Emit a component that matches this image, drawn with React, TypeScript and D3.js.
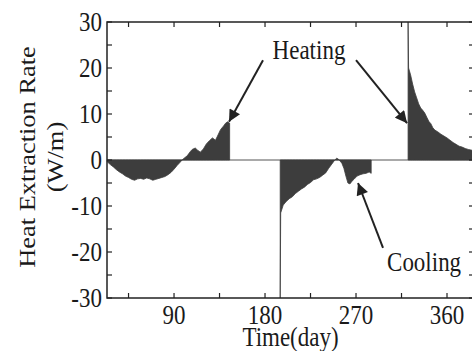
import React, { useEffect, useRef } from 'react'
import * as d3 from 'd3'

// day of year / heat extraction rate (W/m)
const springDays = [24, 27, 30, 33, 36, 39, 42, 45, 48, 51, 54, 57, 60, 63, 66, 69, 72, 75, 78, 81, 84, 87, 90, 93, 96, 98, 100, 103, 106, 108, 111, 113, 116, 119, 122, 125, 128, 131, 133, 136, 139, 141, 143, 145]
const springRate = [-0.4, -1.0, -1.5, -2.1, -2.6, -3.0, -3.5, -3.8, -4.2, -4.4, -4.1, -4.0, -4.2, -3.9, -4.1, -4.4, -4.2, -4.0, -3.8, -3.6, -3.2, -2.7, -2.0, -1.2, -0.5, 0, 0.4, 0.9, 1.8, 2.3, 2.6, 2.2, 1.7, 2.4, 3.5, 4.2, 4.8, 4.3, 5.2, 6.6, 7.4, 8.0, 8.3, 8.0]

const coolDays = [195, 195.5, 198, 201, 204, 207, 210, 213, 216, 219, 222, 225, 228, 231, 234, 237, 240, 243, 246, 249, 251, 253, 256, 258, 260, 262, 264, 266, 268, 271, 274, 277, 280, 283, 285]
const coolRate = [-30, -11.5, -9.8, -9.0, -8.4, -8.0, -7.3, -6.8, -6.3, -5.9, -5.3, -4.9, -4.3, -4.1, -3.8, -3.3, -2.8, -1.8, -0.9, 0, 0.4, 0.1, -0.7, -1.8, -3.5, -5.0, -5.2, -4.6, -4.2, -3.5, -3.2, -3.0, -2.9, -2.6, -2.9]

const winterDays = [321.5, 322, 324, 326, 328, 330, 332, 334, 336, 338, 340, 342, 344, 346, 348, 351, 354, 357, 360, 363, 366, 369, 372, 375, 378, 381, 385]
const winterRate = [30, 20, 18.5, 16.5, 14.8, 13.5, 12.2, 11.3, 10.8, 10.2, 9.3, 8.4, 7.9, 7.0, 6.5, 6.1, 5.6, 5.2, 4.8, 4.3, 3.8, 3.4, 3.0, 2.8, 2.5, 2.3, 2.1]

const xTicks = [45, 90, 135, 180, 225, 270, 315, 360]
const xLabels = [90, 180, 270, 360]
const yTicks = [-30, -25, -20, -15, -10, -5, 0, 5, 10, 15, 20, 25, 30]
const yLabels = [-30, -20, -10, 0, 10, 20, 30]

const W = 472
const H = 351
const margins = { left: 107, right: -2, top: 22, bottom: 53 }
const font = "'Liberation Serif', 'DejaVu Serif', serif"
const stretch = 1.15 // the scanned figure is a bit taller than wide

const App = () => {
  const d3Ref = useRef(null)

  useEffect(() => {
    const svg = d3.select(d3Ref.current)
    svg.selectAll('*').remove()

    const x = d3.scaleLinear().domain([23.7, 386.7]).range([margins.left, W - margins.right])
    const y = d3.scaleLinear().domain([-30, 30]).range([H - margins.bottom, margins.top])
    const x0 = margins.left, x1 = W - margins.right
    const yTop = margins.top, yBot = H - margins.bottom

    const area = d3.area<[number, number]>()
      .x(d => x(d[0]))
      .y0(y(0))
      .y1(d => y(d[1]))

    // zero line
    svg.append('line')
      .attr('x1', x0).attr('x2', x1)
      .attr('y1', y(0)).attr('y2', y(0))
      .attr('stroke', '#555').attr('stroke-width', 1)

    const segments = [
      [springDays, springRate],
      [coolDays, coolRate],
      [winterDays, winterRate],
    ]
    segments.forEach(([days, rate]) => {
      const pts = days.map((d, i) => [d, rate[i]] as [number, number])
      svg.append('path')
        .attr('d', area(pts))
        .attr('fill', '#3d3d3d')
        .attr('stroke', '#3d3d3d')
        .attr('stroke-width', 0.8)
    })

    // frame
    svg.append('rect')
      .attr('x', x0).attr('y', yTop)
      .attr('width', x1 - x0).attr('height', yBot - yTop)
      .attr('fill', 'none').attr('stroke', '#222').attr('stroke-width', 1.5)

    const tickLen = 5
    const ticks = svg.append('g').attr('stroke', '#222').attr('stroke-width', 1.2)
    xTicks.forEach(t => {
      ticks.append('line').attr('x1', x(t)).attr('x2', x(t)).attr('y1', yBot).attr('y2', yBot - tickLen)
      ticks.append('line').attr('x1', x(t)).attr('x2', x(t)).attr('y1', yTop).attr('y2', yTop + tickLen)
    })
    yTicks.forEach(t => {
      ticks.append('line').attr('x1', x0).attr('x2', x0 + tickLen).attr('y1', y(t)).attr('y2', y(t))
      ticks.append('line').attr('x1', x1).attr('x2', x1 - tickLen).attr('y1', y(t)).attr('y2', y(t))
    })

    const label = (px, py, str, anchor = 'middle', rot = false) => svg.append('text')
      .attr('transform', rot
        ? `translate(${px},${py}) rotate(-90) scale(${stretch},1)`
        : `translate(${px},${py}) scale(1,${stretch})`)
      .attr('text-anchor', anchor)
      .style('font-family', font)
      .style('font-size', '23px')
      .attr('fill', '#1a1a1a')
      .text(str)

    xLabels.forEach(d => label(x(d), yBot + 26, d))
    yLabels.forEach(d => label(x0 - 5, y(d) + 8.5, d, 'end'))

    label((x0 + x1) / 2, H - 5, 'Time(day)')
    label(35, y(0) - 3, 'Heat Extraction Rate', 'middle', true)
    label(63, y(0) - 3, '(W/m)', 'middle', true)

    // annotations
    svg.append('defs').append('marker')
      .attr('id', 'head')
      .attr('viewBox', '0 0 10 10')
      .attr('refX', 10).attr('refY', 5)
      .attr('markerWidth', 7).attr('markerHeight', 6)
      .attr('markerUnits', 'strokeWidth')
      .attr('orient', 'auto')
      .append('path').attr('d', 'M0,0 L10,5 L0,10 z').attr('fill', '#222')

    const arrows = [
      [[178, 21.7], [144.4, 8.3]],
      [[270, 21.7], [320.5, 8.0]],
      [[296.7, -19.1], [272, -5.0]],
    ]
    arrows.forEach(([a, b]) => {
      svg.append('line')
        .attr('x1', x(a[0])).attr('y1', y(a[1]))
        .attr('x2', x(b[0])).attr('y2', y(b[1]))
        .attr('stroke', '#222').attr('stroke-width', 2)
        .attr('marker-end', 'url(#head)')
    })

    label(x(223.5), y(21.9), 'Heating')
    label(x(300.7), y(-24.1), 'Cooling', 'start')
  }, [])

  return (
    <svg ref={d3Ref} width={W} height={H}
      style={{ position: 'absolute', left: 0, top: 0, background: '#fff' }} />
  )
}

export default App
